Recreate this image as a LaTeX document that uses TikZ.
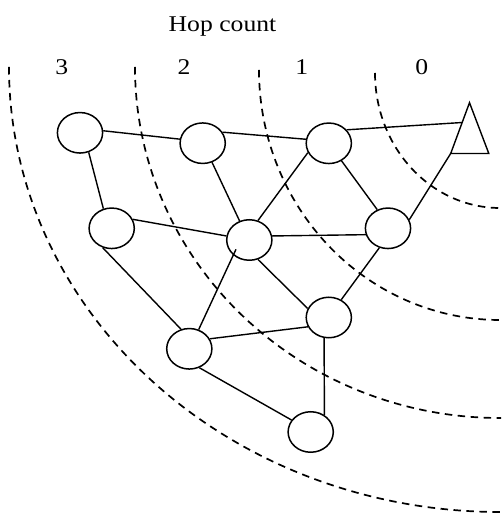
\documentclass[tikz,border=0pt]{standalone}
\usepackage{fontspec}
\setmainfont{Liberation Serif}
\newfontfamily\lblfont{Liberation Serif}[FakeStretch=1.14]
\usetikzlibrary{shapes.geometric,calc}
\begin{document}
\begin{tikzpicture}[x=1pt,y=1pt,
  nd/.style={draw,ellipse,line width=1.5pt,minimum width=45.2pt,minimum height=40.5pt,inner sep=0pt},
  ln/.style={line width=1.4pt},
  hop/.style={line width=1.7pt,dash pattern=on 7.5pt off 5.5pt},
  lbl/.style={font=\lblfont\fontsize{22.5}{27}\selectfont,inner sep=0pt,anchor=base}]
\useasboundingbox (0,0) rectangle (501,514);
\begin{scope}
\clip (0,0) rectangle (501,514);
\draw[hop] (375,441) arc[start angle=180,end angle=272,x radius=125,y radius=135];
\draw[hop] (259,444) arc[start angle=180,end angle=272,x radius=241,y radius=250];
\draw[hop] (135,447) arc[start angle=180,end angle=272,x radius=365,y radius=351];
\draw[hop] (9,447) arc[start angle=180,end angle=272,x radius=491,y radius=445];
\end{scope}
\node[lbl] (title) at (222.5,482.3) {Hop count};
\node[lbl] (h3) at (61.7,439) {3};
\node[lbl] (h2) at (184,439) {2};
\node[lbl] (h1) at (301.7,439) {1};
\node[lbl] (h0) at (421.7,439) {0};
\node[nd] (A) at (80,381.2) {};
\node[nd] (B) at (202.7,370.8) {};
\node[nd] (C) at (328.8,370.7) {};
\node[nd] (D) at (111.7,285.7) {};
\node[nd] (E) at (249.3,274) {};
\node[nd] (F) at (388,285.7) {};
\node[nd] (G) at (328.8,196.5) {};
\node[nd] (H) at (189.3,165.2) {};
\node[nd] (I) at (310.7,82) {};
\coordinate (T1) at (469.5,411.3);
\coordinate (T2) at (450.7,360.5);
\coordinate (T3) at (488.8,360.5);
\draw[ln,line join=miter] (T1) -- (T2) -- (T3) -- cycle;
\coordinate (Tc) at ($(T1)!0.39!(T2)$);
\coordinate (Ein) at ($(E)+(-13.3,-9.3)$);
\draw[ln] (A.5) -- (B.170);
\draw[ln] (B.29) -- (C.170);
\draw[ln] (C.37) -- (Tc);
\draw[ln] (F.22) -- (T2);
\draw[ln] (A.294) -- (D.113);
\draw[ln] (B.296) -- (E.117);
\draw[ln] (C.204) -- (E.66);
\draw[ln] (C.306) -- (F.120);
\draw[ln] (D.23) -- (E.170);
\draw[ln] (E.10) -- (F.196);
\draw[ln] (D.245) -- (H.113);
\draw[ln] (H.64) -- (Ein);
\draw[ln] (E.294) -- (G.157);
\draw[ln] (G.55) -- (F.246);
\draw[ln] (H.26) -- (G.204);
\draw[ln] (G.257) -- (I.51);
\draw[ln] (H.298) -- (I.148);
\end{tikzpicture}
\end{document}
